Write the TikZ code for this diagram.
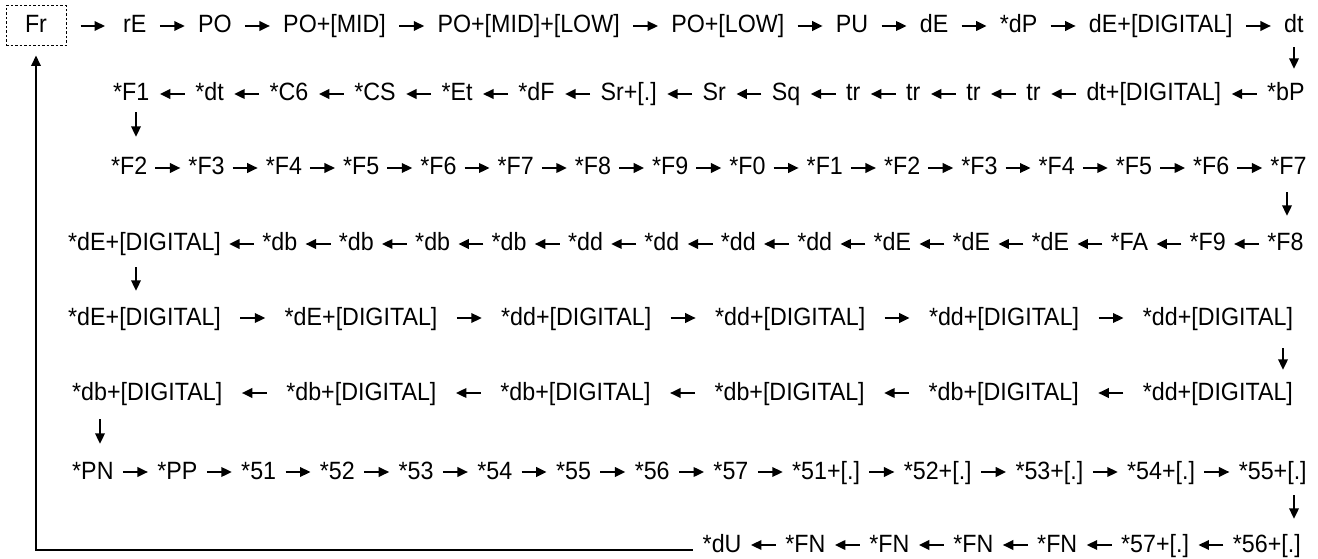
\documentclass[tikz,border=0pt]{standalone}
\usepackage{fontspec}
\setmainfont{Liberation Sans}[FakeStretch=0.93]
\usetikzlibrary{positioning,arrows.meta}
\begin{document}
\begin{tikzpicture}[x=1pt,y=1pt,
  every node/.style={font=\fontsize{25}{30}\selectfont},
  lbl/.style={inner sep=0pt, text height=18pt, text depth=4pt},
  frbox/.style={draw, dash pattern=on 2.5pt off 2pt, line width=1pt, minimum width=60pt, minimum height=40pt, inner sep=0pt, text height=18pt, text depth=4pt},
  arr/.style={line width=2.1pt, -{Triangle[length=10.5pt,width=9.5pt]}},
  sh/.style={shorten <=#1, shorten >=#1}]
\useasboundingbox (0,0) rectangle (1318,558);

% ---------- row 1 (rightward)
\node[frbox, anchor=base] (a1) at (36,525) {Fr};
\node[lbl, anchor=base west] (a2) at (123,525) {rE};
\foreach \t [count=\i from 3, remember=\i as \p (initially 2)] in {PO,PO+[MID],PO+[MID]+[LOW],PO+[LOW],PU,dE,*dP,dE+[DIGITAL],dt}
  \node[lbl, base right=51.2pt of a\p] (a\i) {\t};
\draw[arr, shorten <=14pt, shorten >=18pt] (a1.east) -- (a2.west);
\foreach \i [remember=\i as \p (initially 2)] in {3,...,11}
  \draw[arr, sh=13.1pt] (a\p.east) -- (a\i.west);

% ---------- row 2 (leftward)
\node[lbl, anchor=base west] (b1) at (113,457) {*F1};
\foreach \t [count=\i from 2, remember=\i as \p (initially 1)] in {*dt,*C6,*CS,*Et,*dF,Sr+[.],Sr,Sq,tr,tr,tr,tr,dt+[DIGITAL],*bP}
  \node[lbl, base right=45.5pt of b\p] (b\i) {\t};
\foreach \i [remember=\i as \p (initially 1)] in {2,...,15}
  \draw[arr, sh=10.25pt] (b\i.west) -- (b\p.east);

% ---------- row 3 (rightward)
\node[lbl, anchor=base west] (c1) at (111,383) {*F2};
\foreach \t [count=\i from 2, remember=\i as \p (initially 1)] in {*F3,*F4,*F5,*F6,*F7,*F8,*F9,*F0,*F1,*F2,*F3,*F4,*F5,*F6,*F7}
  \node[lbl, base right=40.7pt of c\p] (c\i) {\t};
\foreach \i [remember=\i as \p (initially 1)] in {2,...,16}
  \draw[arr, sh=7.85pt] (c\p.east) -- (c\i.west);

% ---------- row 4 (leftward)
\node[lbl, anchor=base west] (d1) at (68,307) {*dE+[DIGITAL]};
\foreach \t [count=\i from 2, remember=\i as \p (initially 1)] in {*db,*db,*db,*db,*dd,*dd,*dd,*dd,*dE,*dE,*dE,*FA,*F9,*F8}
  \node[lbl, base right=41.1pt of d\p] (d\i) {\t};
\foreach \i [remember=\i as \p (initially 1)] in {2,...,15}
  \draw[arr, sh=8.05pt] (d\i.west) -- (d\p.east);

% ---------- row 5 (rightward)
\node[lbl, anchor=base west] (e1) at (68,233) {*dE+[DIGITAL]};
\foreach \t [count=\i from 2, remember=\i as \p (initially 1)] in {*dE+[DIGITAL],*dd+[DIGITAL],*dd+[DIGITAL],*dd+[DIGITAL],*dd+[DIGITAL]}
  \node[lbl, base right=63.4pt of e\p] (e\i) {\t};
\foreach \i [remember=\i as \p (initially 1)] in {2,...,6}
  \draw[arr, sh=19.2pt] (e\p.east) -- (e\i.west);

% ---------- row 6 (leftward)
\node[lbl, anchor=base west] (f1) at (72,158) {*db+[DIGITAL]};
\foreach \t [count=\i from 2, remember=\i as \p (initially 1)] in {*db+[DIGITAL],*db+[DIGITAL],*db+[DIGITAL],*db+[DIGITAL],*dd+[DIGITAL]}
  \node[lbl, base right=63.6pt of f\p] (f\i) {\t};
\foreach \i [remember=\i as \p (initially 1)] in {2,...,6}
  \draw[arr, sh=19.3pt] (f\i.west) -- (f\p.east);

% ---------- row 7 (rightward)
\node[lbl, anchor=base west] (g1) at (72,79) {*PN};
\foreach \t [count=\i from 2, remember=\i as \p (initially 1)] in {*PP,*51,*52,*53,*54,*55,*56,*57,*51+[.],*52+[.],*53+[.],*54+[.],*55+[.]}
  \node[lbl, base right=43.4pt of g\p] (g\i) {\t};
\foreach \i [remember=\i as \p (initially 1)] in {2,...,14}
  \draw[arr, sh=9.2pt] (g\p.east) -- (g\i.west);

% ---------- row 8 (leftward), built from the right
\node[lbl, anchor=base east] (h7) at (1301,6) {*56+[.]};
\node[lbl, base left=43.5pt of h7] (h6) {*57+[.]};
\node[lbl, base left=43.5pt of h6] (h5) {*FN};
\node[lbl, base left=43.5pt of h5] (h4) {*FN};
\node[lbl, base left=43.5pt of h4] (h3) {*FN};
\node[lbl, base left=43.5pt of h3] (h2) {*FN};
\node[lbl, base left=43.5pt of h2] (h1) {*dU};
\foreach \i [remember=\i as \p (initially 1)] in {2,...,7}
  \draw[arr, sh=9.25pt] (h\i.west) -- (h\p.east);

% ---------- vertical connectors
\coordinate (v1) at (1294,0);
\coordinate (v2) at (136,0);
\coordinate (v3) at (1287,0);
\coordinate (v5) at (1283,0);
\coordinate (v6) at (100,0);
\draw[arr, shorten <=10pt, shorten >=14pt] (a11.south -| v1) -- (b15.north -| v1);
\draw[arr, shorten <=7pt, shorten >=20pt] (b1.south -| v2) -- (c1.north -| v2);
\draw[arr, shorten <=13pt, shorten >=17pt] (c16.south -| v3) -- (d15.north -| v3);
\draw[arr, shorten <=12pt, shorten >=16pt] (d1.south -| v2) -- (e1.north -| v2);
\draw[arr, shorten <=19pt, shorten >=12pt] (e6.south -| v5) -- (f6.north -| v5);
\draw[arr, shorten <=15pt, shorten >=17pt] (f1.south -| v6) -- (g1.north -| v6);
\draw[arr, shorten <=12pt, shorten >=15pt] (g14.south -| v1) -- (h7.north -| v1);

% ---------- loop back to Fr
\coordinate (lc) at (36,8);
\draw[arr, shorten <=10pt, shorten >=9pt] (h1.west |- lc) -- (lc) -- (a1.south);
\end{tikzpicture}
\end{document}
